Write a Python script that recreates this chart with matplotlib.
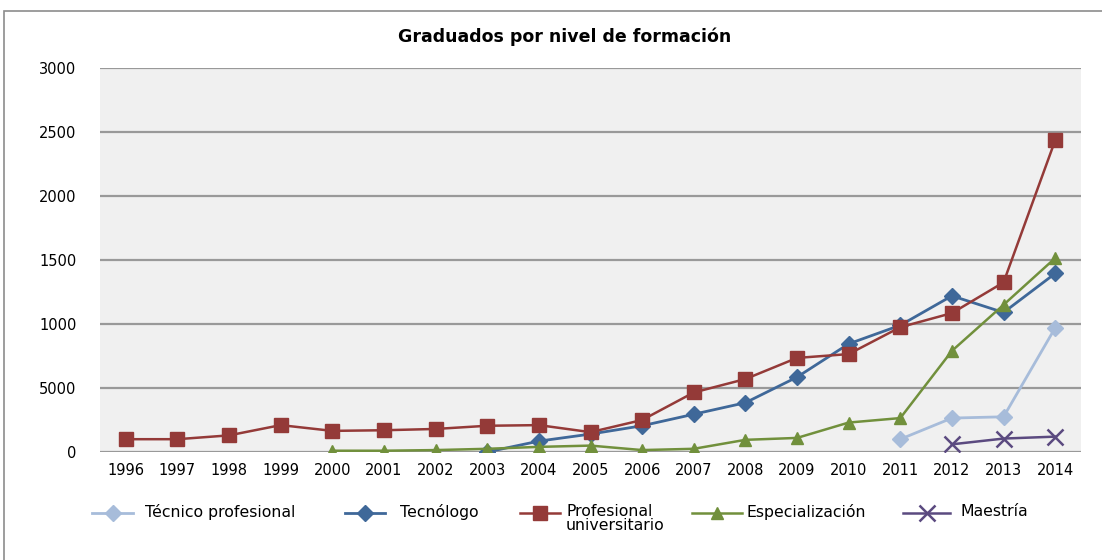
import matplotlib.pyplot as plt
from matplotlib.patches import Rectangle
from matplotlib.lines import Line2D
import numpy as np

years = [str(y) for y in range(1996, 2015)]

# valores por nivel de formación (None = sin dato)
tecnico = [None] * 15 + [100, 265, 275, 970]
tecnologo = [None] * 7 + [0, 85, 140, 205, 295, 385, 585, 845, 990, 1220, 1090, 1395]
profesional = [100, 100, 130, 210, 165, 170, 180, 205, 210, 155, 250, 465, 570, 735, 765,
               975, 1085, 1325, 2435]
especializacion = [None] * 4 + [10, 10, 15, 25, 40, 50, 15, 25, 95, 110, 230, 265, 790,
                                1150, 1515]
maestria = [None] * 16 + [60, 105, 120]

y_ticks = [0, 500, 1000, 1500, 2000, 2500, 3000]
y_labels = ["0", "5000", "1000", "1500", "2000", "2500", "3000"]

plt.rcParams["font.family"] = ["DejaVu Sans"]
plt.rcParams["font.size"] = 10.5

W, H = 1102, 560
fig = plt.figure(figsize=(W / 100, H / 100), dpi=100)
ax = fig.add_axes([100 / W, 1 - 452 / H, 981 / W, 384 / H])

# marco del gráfico
fig.patches.append(Rectangle((4 / W, -0.1), 1.2, 1 - 11 / H + 0.1,
                             transform=fig.transFigure, fill=False,
                             edgecolor="#8c8c8c", linewidth=1.2))

x = np.arange(len(years))


def serie(vals):
    return np.array([np.nan if v is None else v for v in vals], dtype=float)


estilos = [
    ("Técnico profesional", tecnico, dict(color="#a7bcda", marker="D", markersize=8, lw=2)),
    ("Tecnólogo", tecnologo, dict(color="#3f6899", marker="D", markersize=8, lw=2)),
    ("Profesional\nuniversitario", profesional,
     dict(color="#943a38", marker="s", markersize=10, lw=1.8)),
    ("Especialización", especializacion,
     dict(color="#71903c", marker="^", markersize=9, lw=1.8)),
    ("Maestría", maestria, dict(color="#5b4a80", marker="x", markersize=11, mew=1.8, lw=1.8)),
]

for nombre, vals, st in estilos:
    ax.plot(x, serie(vals), **st)

ax.set_facecolor("#f0f0f0")
ax.set_xlim(-0.5, len(years) - 0.5)
ax.set_ylim(0, 3000)
ax.set_xticks(x)
ax.set_xticklabels(years)
ax.set_yticks(y_ticks)
ax.set_yticklabels(y_labels)
ax.tick_params(length=0, pad=8)
ax.tick_params(axis="y", pad=17)
ax.grid(axis="y", color="#999999", linewidth=1.6)
ax.set_axisbelow(True)
for s in ax.spines.values():
    s.set_visible(False)

fig.text(0.512, 1 - 37 / H, "Graduados por nivel de formación", ha="center",
         va="center", fontsize=12.5, fontweight="bold")

# leyenda colocada a mano (línea, marcador, texto)
leyenda_x = [(92, 133, 145), (345, 385, 400), (520, 560, 566), (692, 742, 746),
             (903, 950, 960)]
ly = 1 - 513 / H
for (nombre, vals, st), (x0, x1, xt) in zip(estilos, leyenda_x):
    st = dict(st)
    fig.add_artist(Line2D([x0 / W, x1 / W], [ly, ly], transform=fig.transFigure,
                          color=st["color"], lw=st["lw"]))
    st.pop("lw")
    fig.add_artist(Line2D([(x0 + x1) / 2 / W], [ly], transform=fig.transFigure,
                          linestyle="none", **st))
    fig.text(xt / W, 1 - 504 / H, nombre, ha="left", va="top", linespacing=0.95,
             fontsize=11.3)

fig.savefig("out.png", dpi=100)
